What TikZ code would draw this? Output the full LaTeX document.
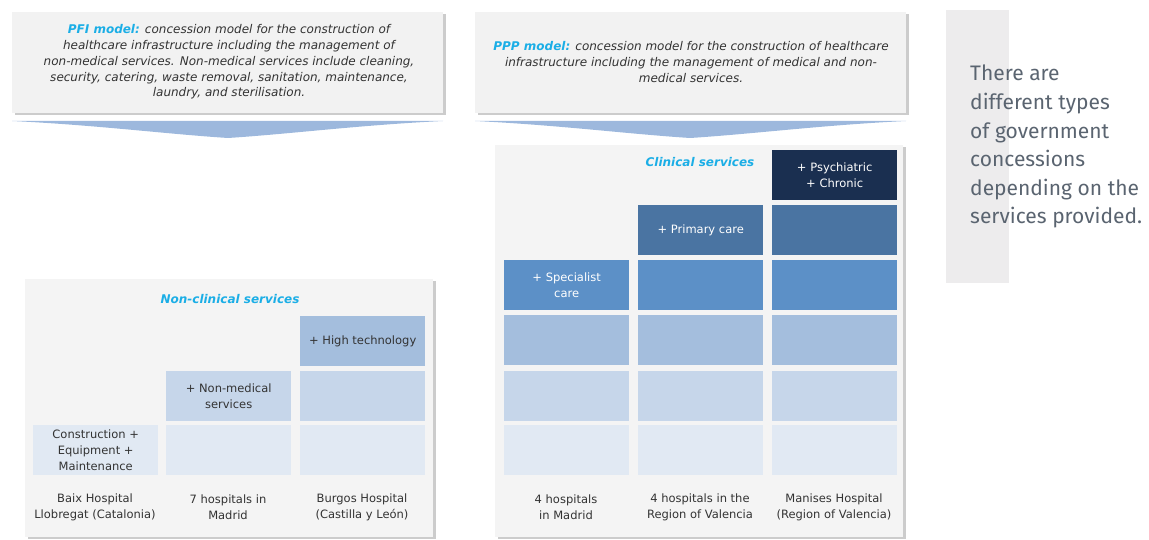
\documentclass[tikz,border=0pt]{standalone}
\usepackage{fontspec}
\setmainfont{DejaVu Sans}
\newfontfamily\sidefont{Fira Sans}
\usetikzlibrary{shadows}
\definecolor{titleblue}{HTML}{1BAEE6}
\definecolor{txt}{HTML}{333333}
\definecolor{panelbg}{HTML}{F4F4F4}
\definecolor{boxbg}{HTML}{F2F2F2}
\definecolor{sidebar}{HTML}{EDECED}
\definecolor{sidetxt}{HTML}{5A6470}
\definecolor{chev}{HTML}{9DB8DD}
\definecolor{cA}{HTML}{1A2F50}
\definecolor{cB}{HTML}{4A74A2}
\definecolor{cC}{HTML}{5C90C7}
\definecolor{cD}{HTML}{A4BEDD}
\definecolor{cE}{HTML}{C6D6EA}
\definecolor{cF}{HTML}{E1E9F3}
\tikzset{
  shadowed/.style={drop shadow={shadow xshift=2.5pt,shadow yshift=-2pt,fill=black!40,opacity=0.5}},
  topbox/.style={fill=boxbg,shadowed},
  panel/.style={fill=panelbg,shadowed},
  cell/.style={minimum width=125pt,minimum height=50pt,inner sep=0pt,anchor=north west,
    align=center,font=\fontsize{11.5}{16}\selectfont,text=txt},
  dcell/.style={cell,text=white},
  lbl/.style={align=center,font=\fontsize{11.5}{16}\selectfont,text=txt},
  ttl/.style={font=\fontsize{12}{14}\selectfont\bfseries\itshape,text=titleblue},
  toptext/.style={align=center,font=\fontsize{12}{15.8}\selectfont\itshape,text=txt},
  chevron/.style={fill=chev}
}
\begin{document}
\begin{tikzpicture}[x=1pt,y=-1pt]
\useasboundingbox (0,0) rectangle (1149,540);
% side bar
\fill[sidebar] (946,10) rectangle (1009,283);
\node[anchor=north west,align=left,inner sep=0pt,text=sidetxt,
  font=\sidefont\fontsize{21}{28.6}\selectfont] (side) at (970,65)
  {There are\\different types\\of government\\concessions\\depending on the\\services provided.};
% top boxes
\draw[topbox,draw=none] (12,12) rectangle (443,113);
\draw[topbox,draw=none] (475,12) rectangle (906,113);
\node[toptext] (pfi) at (229,62) {{\bfseries\color{titleblue}PFI model:} concession model for the construction of\\
healthcare infrastructure including the management of\\
non-medical services. Non-medical services include cleaning,\\
security, catering, waste removal, sanitation, maintenance,\\
laundry, and sterilisation.};
\node[toptext] (ppp) at (691,62) {{\bfseries\color{titleblue}PPP model:} concession model for the construction of healthcare\\
infrastructure including the management of medical and non-\\
medical services.};
% chevrons
\fill[chevron] (12,121) -- (443,121) .. controls (360,125) and (290,134) .. (228,138) .. controls (166,134) and (96,125) .. (12,121) -- cycle;
\fill[chevron] (475,121) -- (906,121) .. controls (823,125) and (753,134) .. (690,138) .. controls (628,134) and (558,125) .. (475,121) -- cycle;
% left panel
\draw[panel,draw=none] (25,279) rectangle (433,537);
\node[ttl] (nct) at (230,299) {Non-clinical services};
\node[cell,fill=cF] (l11) at (33,425) {Construction +\\Equipment +\\Maintenance};
\node[cell,fill=cF] (l21) at (166,425) {};
\node[cell,fill=cF] (l31) at (300,425) {};
\node[cell,fill=cE] (l22) at (166,371) {+ Non-medical\\services};
\node[cell,fill=cE] (l32) at (300,371) {};
\node[cell,fill=cD] (l33) at (300,316) {+ High technology};
\node[lbl] (lb1) at (95,507) {Baix Hospital\\Llobregat (Catalonia)};
\node[lbl] (lb2) at (228,507) {7 hospitals in\\Madrid};
\node[lbl] (lb3) at (362,507) {Burgos Hospital\\(Castilla y León)};
% right panel
\draw[panel,draw=none] (495,145) rectangle (903,537);
\node[ttl] (ct) at (700,162) {Clinical services};
\foreach \c/\x in {1/504,2/638,3/772}{
  \node[cell,fill=cF] (rF\c) at (\x,425) {};
  \node[cell,fill=cE] (rE\c) at (\x,371) {};
  \node[cell,fill=cD] (rD\c) at (\x,315) {};
}
\node[dcell,fill=cC] (rC1) at (504,260) {+ Specialist\\care};
\node[cell,fill=cC] (rC2) at (638,260) {};
\node[cell,fill=cC] (rC3) at (772,260) {};
\node[dcell,fill=cB] (rB2) at (638,205) {+ Primary care};
\node[cell,fill=cB] (rB3) at (772,205) {};
\node[dcell,fill=cA] (rA3) at (772,150) {+ Psychiatric\\+ Chronic};
\node[lbl] (rb1) at (566,507) {4 hospitals\\in Madrid};
\node[lbl] (rb2) at (700,507) {4 hospitals in the\\Region of Valencia};
\node[lbl] (rb3) at (834,507) {Manises Hospital\\(Region of Valencia)};
\end{tikzpicture}
\end{document}
